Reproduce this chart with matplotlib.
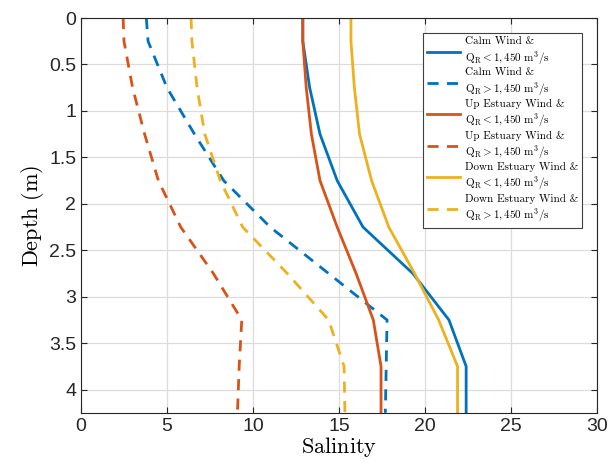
import matplotlib
matplotlib.use("Agg")
import matplotlib.pyplot as plt

plt.rcParams['mathtext.fontset'] = 'cm'
plt.rcParams['font.family'] = ['Liberation Sans', 'DejaVu Sans']

depth = [0, 0.25, 0.75, 1.25, 1.75, 2.25, 2.75, 3.25, 3.75, 4.25]

calm_low = [12.9, 12.9, 13.3, 13.9, 14.9, 16.4, 19.3, 21.4, 22.4, 22.4]
calm_high = [3.8, 3.9, 5.0, 6.6, 8.3, 11.0, 14.4, 17.8, 17.75, 17.7]
up_low = [12.9, 12.9, 13.1, 13.4, 13.9, 14.9, 16.0, 17.0, 17.45, 17.45]
up_high = [2.45, 2.5, 3.0, 3.7, 4.5, 5.8, 7.7, 9.35, 9.2, 9.1]
down_low = [15.7, 15.7, 15.9, 16.2, 16.9, 17.9, 19.4, 20.8, 21.9, 21.9]
down_high = [6.4, 6.45, 6.75, 7.2, 8.1, 9.4, 12.0, 14.4, 15.3, 15.35]

labels = [
    'Calm Wind &\n' + r'$\mathrm{Q_R} < 1,450\ \mathrm{m^3/s}$',
    'Calm Wind &\n' + r'$\mathrm{Q_R} > 1,450\ \mathrm{m^3/s}$',
    'Up Estuary Wind &\n' + r'$\mathrm{Q_R} < 1,450\ \mathrm{m^3/s}$',
    'Up Estuary Wind &\n' + r'$\mathrm{Q_R} > 1,450\ \mathrm{m^3/s}$',
    'Down Estuary Wind &\n' + r'$\mathrm{Q_R} < 1,450\ \mathrm{m^3/s}$',
    'Down Estuary Wind &\n' + r'$\mathrm{Q_R} > 1,450\ \mathrm{m^3/s}$',
]

blue = '#0072BD'
orange = '#D95319'
yellow = '#EDB120'

fig = plt.figure(figsize=(6.09, 4.74), dpi=100)
ax = fig.add_axes([0.133, 0.129, 0.847, 0.833])

series = [calm_low, calm_high, up_low, up_high, down_low, down_high]
colors = [blue, blue, orange, orange, yellow, yellow]
styles = ['-', '--', '-', '--', '-', '--']
for s, c, ls, lab in zip(series, colors, styles, labels):
    ax.plot(s, depth, color=c, ls=ls, lw=2.0, label=lab,
            dashes=(4, 3) if ls == '--' else (None, None))

ax.set_xlim(0, 30)
ax.set_ylim(4.25, 0)
ax.set_xticks([0, 5, 10, 15, 20, 25, 30])
ax.set_yticks([0, 0.5, 1, 1.5, 2, 2.5, 3, 3.5, 4])
ax.set_yticklabels(['0', '0.5', '1', '1.5', '2', '2.5', '3', '3.5', '4'])
ax.grid(True, color='#dcdcdc', lw=0.9)
ax.set_axisbelow(True)
ax.tick_params(direction='in', top=True, right=True, labelsize=14,
               colors='#262626', length=4)
for sp in ax.spines.values():
    sp.set_color('#262626')
    sp.set_linewidth(0.8)

ax.set_xlabel(r'$\mathrm{Salinity}$', fontsize=16, labelpad=0)
ax.set_ylabel(r'$\mathrm{Depth\ (m)}$', fontsize=16, labelpad=2)

leg = ax.legend(loc='upper right', prop={'family': 'cmr10', 'size': 8},
                frameon=True, fancybox=False,
                edgecolor='#404040', framealpha=1, handlelength=3.0,
                borderpad=0.35, labelspacing=0.12, handletextpad=0.4,
                borderaxespad=0, bbox_to_anchor=(0.971, 0.962))
leg.get_frame().set_linewidth(0.8)

fig.savefig('out.png', dpi=100)
